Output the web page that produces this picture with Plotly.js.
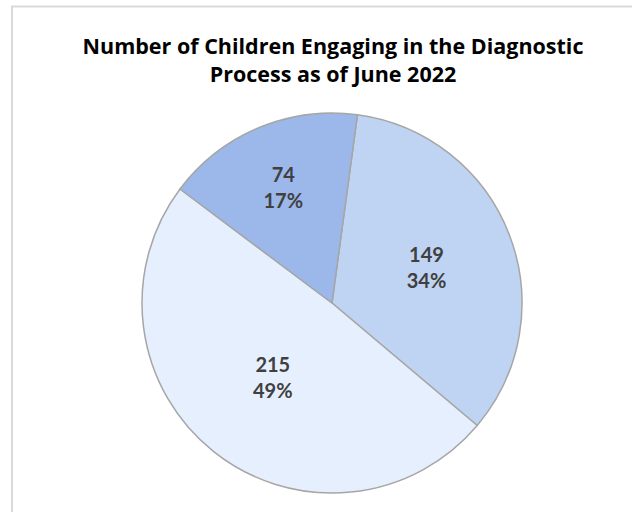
<!DOCTYPE html>
<html>
<head>
<meta charset="utf-8">
<script src="https://cdn.plot.ly/plotly-3.0.1.min.js"></script>
<style>
  html, body { margin: 0; padding: 0; background: #fff; }
  #chart { width: 632px; height: 512px; }
</style>
</head>
<body>
<div id="chart"></div>
<script>
const categories = ['Group A', 'Group B', 'Group C'];
const values = [149, 215, 74];
const sliceColors = ['#BFD3F3', '#E6EFFD', '#9CB8EA'];
const titleText = 'Number of Children Engaging in the Diagnostic<br>Process as of June 2022';

const W = 632, H = 512;
const px = x => x / W;
const py = y => 1 - y / H;

const trace = {
  type: 'pie',
  labels: categories,
  values: values,
  sort: false,
  direction: 'clockwise',
  rotation: 7.7,
  marker: { colors: sliceColors, line: { color: '#A6A6A6', width: 1.5 } },
  texttemplate: '<b>%{value}<br>%{percent:.0%}</b>',
  textposition: 'inside',
  insidetextorientation: 'horizontal',
  textfont: { family: 'Lato, "Open Sans", sans-serif', size: 20, color: '#404040' },
  hoverinfo: 'label+value+percent',
  showlegend: false,
  domain: { x: [px(142), px(522)], y: [py(493), py(113)] }
};

const layout = {
  width: W, height: H,
  margin: { l: 0, r: 0, t: 0, b: 0 },
  paper_bgcolor: '#fff',
  plot_bgcolor: '#fff',
  title: {
    text: '<b>' + titleText + '</b>',
    font: { family: '"Open Sans", Lato, sans-serif', size: 21.5, color: '#000' },
    x: px(333), xanchor: 'center',
    y: py(54), yanchor: 'top'
  },
  shapes: [
    { type: 'line', xref: 'paper', yref: 'paper', x0: px(12), x1: px(12), y0: py(6), y1: -0.01,
      line: { color: '#D9D9D9', width: 2 } },
    { type: 'line', xref: 'paper', yref: 'paper', x0: px(11), x1: 1.01, y0: py(6.5), y1: py(6.5),
      line: { color: '#D9D9D9', width: 2 } }
  ]
};

Plotly.newPlot('chart', [trace], layout, { displayModeBar: false, responsive: false });
</script>
</body>
</html>
